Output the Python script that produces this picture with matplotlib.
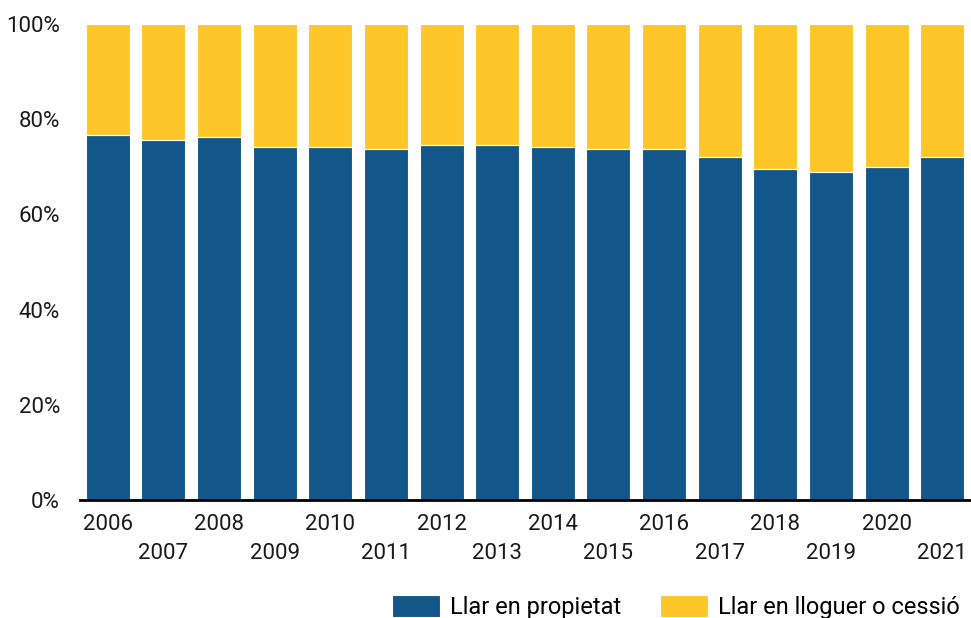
import numpy as np
import matplotlib
matplotlib.use("Agg")
import matplotlib.pyplot as plt
from matplotlib.ticker import FuncFormatter

plt.rcParams["font.family"] = ["Roboto", "DejaVu Sans"]

years = [str(y) for y in range(2006, 2022)]
propietat = [76.6, 75.7, 76.2, 74.1, 74.1, 73.7, 74.5, 74.5,
             74.1, 73.7, 73.7, 72.0, 69.5, 69.0, 69.9, 72.0]
lloguer = [100 - v for v in propietat]

blue = "#135689"
yellow = "#FFC629"

fig = plt.figure(figsize=(9.71, 6.18), dpi=100)
ax = fig.add_axes([80 / 971, 1 - 500 / 618, 890 / 971, 476 / 618])

x = np.arange(len(years))
w = 0.79
ax.bar(x, propietat, w, color=blue, edgecolor="white", linewidth=0.8,
       label="Llar en propietat")
ax.bar(x, lloguer, w, bottom=propietat, color=yellow, edgecolor="white",
       linewidth=0.8, label="Llar en lloguer o cessió")

ax.set_xlim(-0.5, 15.5)
ax.set_ylim(0, 100)
ax.set_yticks([0, 20, 40, 60, 80, 100])
ax.yaxis.set_major_formatter(FuncFormatter(lambda v, p: f"{v:.0f}%"))

# alternate year labels on two rows
labels = [y if i % 2 == 0 else "\n" + y for i, y in enumerate(years)]
ax.set_xticks(x)
ax.set_xticklabels(labels, linespacing=1.52)

for s in ["top", "right", "left"]:
    ax.spines[s].set_visible(False)
ax.spines["bottom"].set_linewidth(2)
ax.spines["bottom"].set_color("black")
ax.tick_params(axis="both", length=0, labelsize=16, colors="#1a1a1a")
ax.tick_params(axis="x", pad=10)
ax.tick_params(axis="y", pad=14.4)

fig.legend(loc="lower right", bbox_to_anchor=(1.003, -0.024), ncol=2,
           frameon=False, fontsize=17, handlelength=2.03, handleheight=1.06,
           columnspacing=1.65, handletextpad=0.42, borderaxespad=0.2)

fig.savefig("out.png", dpi=100)
